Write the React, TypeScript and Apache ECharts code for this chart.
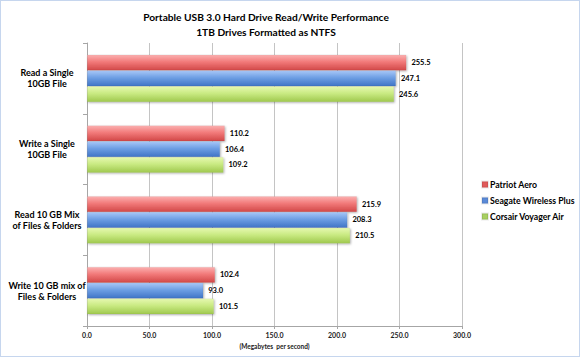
import React, { useEffect, useRef } from "react";
import * as echarts from "echarts";

const categories = [
  "Read a Single\n10GB File",
  "Write a Single\n10GB File",
  "Read 10 GB Mix\nof Files & Folders",
  "Write 10 GB mix of\nFiles & Folders",
];
const seriesNames = ["Patriot Aero", "Seagate Wireless Plus", "Corsair Voyager Air"];
const patriot = [255.5, 110.2, 215.9, 102.4];
const seagate = [247.1, 106.4, 208.3, 93.0];
const corsair = [245.6, 109.2, 210.5, 101.5];
const xTicks = { min: 0, max: 300, interval: 50 };

const grads = [
  ["#fbb0b0", "#f27a7a", "#d24848"],
  ["#a8c7f7", "#6e9fe4", "#4074c6"],
  ["#e6f8b0", "#c9ea82", "#9fc84e"],
];
const legendColors = ["#e05a5a", "#5a8ad8", "#a8d060"];

function grad(c: string[]) {
  return new echarts.graphic.LinearGradient(0, 0, 0, 1, [
    { offset: 0, color: c[0] },
    { offset: 0.45, color: c[1] },
    { offset: 1, color: c[2] },
  ]);
}

export default function App() {
  const ref = useRef<HTMLDivElement>(null);
  useEffect(() => {
    if (!ref.current) return;
    const chart = echarts.init(ref.current, null, { renderer: "svg" });
    const font = "Lato, 'Open Sans', sans-serif";
    const data = [patriot, seagate, corsair];
    chart.setOption({
      animation: false,
      backgroundColor: "#ffffff",
      textStyle: { fontFamily: font },
      title: {
        text: "Portable USB 3.0 Hard Drive Read/Write Performance\n1TB Drives Formatted as NTFS",
        left: 260,
        textAlign: "center",
        top: 4,
        textStyle: { fontFamily: font, fontSize: 10.2, fontWeight: "bold", color: "#000", lineHeight: 14.5 },
      },
      legend: {
        orient: "vertical",
        left: 475,
        top: 174,
        itemWidth: 6,
        itemHeight: 6,
        itemGap: 7,
        icon: "rect",
        textStyle: { fontFamily: font, fontSize: 8.7, fontWeight: "bold", color: "#000", padding: [0, 0, 0, -3] },
        data: seriesNames.map((n, i) => ({ name: n, itemStyle: { color: legendColors[i] } })),
      },
      grid: { left: 86, right: 117, top: 42, bottom: 30 },
      xAxis: {
        type: "value",
        min: xTicks.min,
        max: xTicks.max,
        interval: xTicks.interval,
        name: "(Megabytes  per second)",
        nameLocation: "middle",
        nameGap: 17,
        nameTextStyle: { fontFamily: font, fontSize: 6.5, fontWeight: "bold", color: "#222" },
        axisLine: { show: true, lineStyle: { color: "#a6a6a6" } },
        axisTick: { show: true, length: 3, lineStyle: { color: "#a6a6a6" } },
        axisLabel: {
          fontFamily: font,
          fontSize: 7,
          fontWeight: "bold",
          color: "#222",
          margin: 5,
          formatter: (v: number) => v.toFixed(1),
        },
        splitLine: { show: true, lineStyle: { color: "#c4c4c4" } },
      },
      yAxis: {
        type: "category",
        inverse: true,
        data: categories,
        axisLine: { show: true, lineStyle: { color: "#a6a6a6" } },
        axisTick: { show: true, length: 4, lineStyle: { color: "#a6a6a6" } },
        axisLabel: {
          fontFamily: font,
          fontSize: 9,
          fontWeight: "bold",
          color: "#000",
          lineHeight: 11,
          align: "center",
          margin: 40,
        },
      },
      series: seriesNames.map((n, i) => ({
        name: n,
        type: "bar",
        data: data[i],
        barGap: "0%",
        barCategoryGap: "33%",
        itemStyle: {
          color: grad(grads[i]),
          borderColor: "rgba(0,0,0,0.08)",
          borderWidth: 0.5,
          shadowColor: "rgba(0,0,0,0.3)",
          shadowBlur: 2,
          shadowOffsetX: 1,
          shadowOffsetY: 1,
        },
        label: {
          show: true,
          position: "right",
          distance: 5,
          fontFamily: font,
          fontSize: 7.5,
          fontWeight: "bold",
          color: "#000",
          formatter: (p: any) => Number(p.value).toFixed(1),
        },
      })),
    });
    return () => chart.dispose();
  }, []);
  return (
    <div
      style={{
        position: "absolute",
        left: 0,
        top: 0,
        width: 580,
        height: 357,
        boxSizing: "border-box",
        border: "1px solid #c6d6ee",
        background: "#fff",
      }}
    >
      <div ref={ref} style={{ width: 578, height: 355 }} />
    </div>
  );
}
